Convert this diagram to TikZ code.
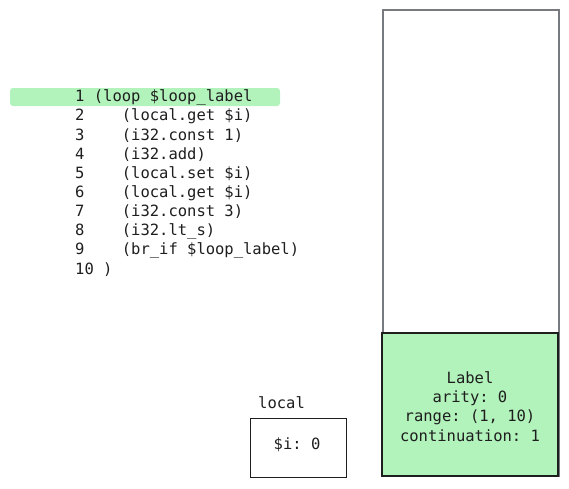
\documentclass[tikz,border=0pt]{standalone}
\usepackage{fontspec}
\setmonofont{DejaVu Sans Mono}
\definecolor{hl}{HTML}{B2F2BB}
\definecolor{ink}{HTML}{1E1E1E}
\definecolor{frame}{HTML}{777A7E}
\begin{document}
\begin{tikzpicture}[x=1pt,y=-1pt,
  code/.style={anchor=west,inner sep=0pt,font=\ttfamily\fontsize{15.5}{19.3}\selectfont,text=ink},
  cen/.style={inner sep=0pt,font=\ttfamily\fontsize{15.5}{19.3}\selectfont,text=ink,align=center}]
\useasboundingbox (0,0) rectangle (569,488);
% highlight
\fill[hl,rounded corners=3pt] (10,88) rectangle (280,106);
% code lines
\node[code] (l1) at (75,97.5) {1 (loop \$loop\_label};
\node[code] (l2) at (75,116.6) {2~~~~(local.get \$i)};
\node[code] (l3) at (75,135.7) {3~~~~(i32.const 1)};
\node[code] (l4) at (75,154.8) {4~~~~(i32.add)};
\node[code] (l5) at (75,173.9) {5~~~~(local.set \$i)};
\node[code] (l6) at (75,193.0) {6~~~~(local.get \$i)};
\node[code] (l7) at (75,212.1) {7~~~~(i32.const 3)};
\node[code] (l8) at (75,231.2) {8~~~~(i32.lt\_s)};
\node[code] (l9) at (75,250.3) {9~~~~(br\_if \$loop\_label)};
\node[code] (l10) at (75,269.4) {10 )};
% stack
\draw[frame,line width=1.3pt] (383,477) -- (383,10) -- (559,10) -- (559,477);
\draw[ink,line width=1.8pt,fill=hl] (382,333) rectangle (558,476);
\node[cen] (lab) at (470,406.5) {Label\\arity: 0\\range: (1, 10)\\continuation: 1};
% local
\node[code] (loc) at (258,402.5) {local};
\draw[ink,line width=0.8pt] (250,418) rectangle (346,477);
\node[cen] (iv) at (297,444.5) {\$i: 0};
\end{tikzpicture}
\end{document}
